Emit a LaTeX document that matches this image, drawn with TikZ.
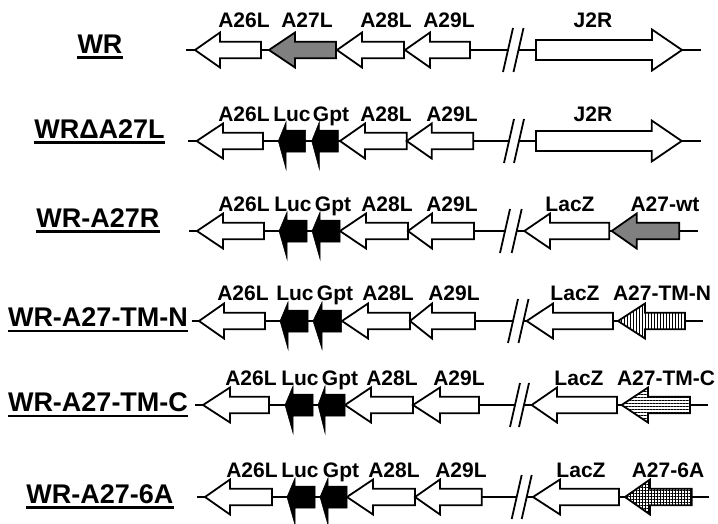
\documentclass[tikz,border=0pt]{standalone}
\usepackage{fontspec}
\setmainfont{Liberation Sans}
\usetikzlibrary{patterns,patterns.meta}
\tikzset{
  gene/.style={draw=black, line width=1.8pt, line join=miter, fill=white},
  graygene/.style={gene, fill=gray},
  vgene/.style={gene, preaction={fill=white}, pattern={Lines[angle=90,distance=3pt,line width=1pt]}},
  hgene/.style={gene, preaction={fill=white}, pattern={Lines[angle=0,distance=3pt,line width=1pt]}},
  cgene/.style={gene, preaction={fill=white}, pattern={Hatch[angle=0,distance=3pt,line width=0.8pt]}},
  markgene/.style={fill=black, draw=black, line width=0.5pt, line join=miter},
  backbone/.style={line width=1.8pt},
  brkline/.style={line width=1.8pt},
  glbl/.style={inner sep=0pt, anchor=base, font=\fontsize{21}{24}\selectfont\bfseries},
  rlbl/.style={inner sep=0pt, anchor=base, font=\fontsize{27}{30}\selectfont\bfseries},
  uline/.style={line width=2.4pt},
}
% left-pointing gene: [style]{tip}{head back}{body end}{y}
\newcommand\geneL[5][gene]{\draw[#1] (#2,#5) -- (#3,#5-17.5) -- (#3,#5-8.3) -- (#4,#5-8.3) -- (#4,#5+8.3) -- (#3,#5+8.3) -- (#3,#5+17.5) -- cycle;}
% right-pointing big gene: {tail}{head back}{tip}{y}
\newcommand\geneR[4]{\draw[gene] (#3,#4) -- (#2,#4-20.5) -- (#2,#4-10) -- (#1,#4-10) -- (#1,#4+10) -- (#2,#4+10) -- (#2,#4+20.5) -- cycle;}
% Luc / Gpt marker: {tip}{head back}{end}{y}
\newcommand\markL[4]{\draw[markgene] (#1,#4) -- (#2,#4-19) -- (#2,#4-11) -- (#3,#4-11) -- (#3,#4+11) -- (#2,#4+11) -- (#2,#4+28) -- cycle;}
% break: {x1}{x2}{y}
\newcommand\brk[3]{\draw[brkline] (#1,#3+22) -- (#1+10,#3-22) (#2,#3+22) -- (#2+10,#3-22);}
% row label: {name}{x}{base}{text}
\newcommand\rowlabel[4]{\node[rlbl] (#1) at (#2,#3) {#4};
  \draw[uline] ([yshift=-4.3pt]#1.base west) -- ([yshift=-4.3pt]#1.base east);}
\begin{document}
\begin{tikzpicture}[x=1pt,y=-1pt]
\useasboundingbox (0,0) rectangle (718,523);

% ---------------- Row 1: WR ----------------
\rowlabel{r1}{100}{53}{WR}
\draw[backbone] (186,50) -- (508,50) (518.5,50) -- (701,50);
\geneL{195}{220}{261}{50}
\geneL[graygene]{269}{295}{336}{50}
\geneL{337}{362}{404}{50}
\geneL{405}{430}{470}{50}
\brk{503}{513.5}{50}
\geneR{536}{652}{682}{50}
\node[glbl] (r1a) at (244,27) {A26L};
\node[glbl] (r1b) at (307,27) {A27L};
\node[glbl] (r1c) at (386,27) {A28L};
\node[glbl] (r1d) at (449,27) {A29L};
\node[glbl] (r1e) at (593,27) {J2R};

% ---------------- Row 2: WR delta A27L ----------------
\rowlabel{r2}{99.5}{138}{WRΔA27L}
\draw[backbone] (188,141) -- (508.5,141) (518.5,141) -- (700.7,141);
\geneL{196.7}{223}{263}{141}
\markL{278.3}{286}{305.7}{141}
\markL{311.7}{319.3}{338.3}{141}
\geneL{340}{365}{406.7}{141}
\geneL{406.7}{431.7}{473.3}{141}
\brk{504}{514}{141}
\geneR{536}{651.7}{681.7}{141}
\node[glbl] (r2a) at (244,121.7) {A26L};
\node[glbl] (r2b) at (292,121.7) {Luc};
\node[glbl] (r2c) at (331,121.7) {Gpt};
\node[glbl] (r2d) at (386,121.7) {A28L};
\node[glbl] (r2e) at (452,121.7) {A29L};
\node[glbl] (r2f) at (593,121.7) {J2R};

% ---------------- Row 3: WR-A27R ----------------
\rowlabel{r3}{98}{227}{WR-A27R}
\draw[backbone] (189,231) -- (505,231) (516.7,231) -- (698,231);
\geneL{197}{223}{264}{231}
\markL{279}{287}{307}{231}
\markL{312}{320}{340}{231}
\geneL{340}{366}{408}{231}
\geneL{408}{432}{474}{231}
\brk{500}{511.7}{231}
\geneL{524.3}{550}{609.3}{231}
\geneL[graygene]{611.7}{636.7}{679.3}{231}
\node[glbl] (r3a) at (244,211.7) {A26L};
\node[glbl] (r3b) at (293,211.7) {Luc};
\node[glbl] (r3c) at (333,211.7) {Gpt};
\node[glbl] (r3d) at (387,211.7) {A28L};
\node[glbl] (r3e) at (452,211.7) {A29L};
\node[glbl] (r3f) at (570,211.7) {LacZ};
\node[glbl] (r3g) at (665,211.7) {A27-wt};

% ---------------- Row 4: WR-A27-TM-N ----------------
\rowlabel{r4}{98}{326.7}{WR-A27-TM-N}
\draw[backbone] (191.7,321) -- (512.5,321) (523,321) -- (703,321);
\geneL{199}{224}{265}{321}
\markL{280}{288}{308}{321}
\markL{313}{322}{341.7}{321}
\geneL{342}{368}{410}{321}
\geneL{410}{432}{475}{321}
\brk{508}{518.5}{321}
\geneL{526.7}{553}{613}{321}
\geneL[vgene]{618}{645}{685}{321}
\node[glbl] (r4a) at (243,300) {A26L};
\node[glbl] (r4b) at (295,300) {Luc};
\node[glbl] (r4c) at (335,300) {Gpt};
\node[glbl] (r4d) at (388,300) {A28L};
\node[glbl] (r4e) at (454,300) {A29L};
\node[glbl] (r4f) at (575,300) {LacZ};
\node[glbl] (r4g) at (662,300) {A27-TM-N};

% ---------------- Row 5: WR-A27-TM-C ----------------
\rowlabel{r5}{98}{411.7}{WR-A27-TM-C}
\draw[backbone] (195,405) -- (514.5,405) (523.5,405) -- (708,405);
\geneL{203}{230}{269}{405}
\markL{285}{293}{313}{405}
\markL{318}{325}{345}{405}
\geneL{345}{371}{413}{405}
\geneL{413}{440}{479}{405}
\brk{510}{519}{405}
\geneL{531.7}{557}{617}{405}
\geneL[hgene]{621.7}{648}{690}{405}
\node[glbl] (r5a) at (251,385) {A26L};
\node[glbl] (r5b) at (300,385) {Luc};
\node[glbl] (r5c) at (340,385) {Gpt};
\node[glbl] (r5d) at (392,385) {A28L};
\node[glbl] (r5e) at (459,385) {A29L};
\node[glbl] (r5f) at (579,385) {LacZ};
\node[glbl] (r5g) at (666,385) {A27-TM-C};

% ---------------- Row 6: WR-A27-6A ----------------
\rowlabel{r6}{100}{503}{WR-A27-6A}
\draw[backbone] (197,497) -- (516.7,497) (526.7,497) -- (709,497);
\geneL{205}{230}{272}{497}
\markL{287}{295}{315}{497}
\markL{320}{328}{347}{497}
\geneL{347}{373}{415}{497}
\geneL{415}{440}{481.7}{497}
\brk{511.7}{521.7}{497}
\geneL{533}{560}{619}{497}
\geneL[cgene]{625}{650}{691.7}{497}
\node[glbl] (r6a) at (252,477) {A26L};
\node[glbl] (r6b) at (300,477) {Luc};
\node[glbl] (r6c) at (341,477) {Gpt};
\node[glbl] (r6d) at (394,477) {A28L};
\node[glbl] (r6e) at (461,477) {A29L};
\node[glbl] (r6f) at (581,477) {LacZ};
\node[glbl] (r6g) at (668,477) {A27-6A};
\end{tikzpicture}
\end{document}
